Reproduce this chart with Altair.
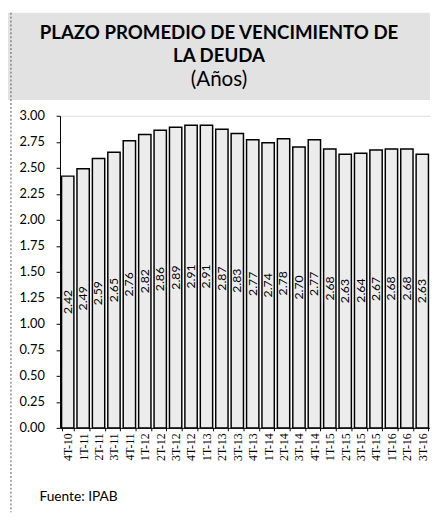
import altair as alt
import pandas as pd

quarters = ["4T-10", "1T-11", "2T-11", "3T-11", "4T-11", "1T-12", "2T-12", "3T-12",
            "4T-12", "1T-13", "2T-13", "3T-13", "4T-13", "1T-14", "2T-14", "3T-14",
            "4T-14", "1T-15", "2T-15", "3T-15", "4T-15", "1T-16", "2T-16", "3T-16"]
plazo = [2.42, 2.49, 2.59, 2.65, 2.76, 2.82, 2.86, 2.89, 2.91, 2.91, 2.87, 2.83,
         2.77, 2.74, 2.78, 2.70, 2.77, 2.68, 2.63, 2.64, 2.67, 2.68, 2.68, 2.63]
y_ticks = [0.0, 0.25, 0.5, 0.75, 1.0, 1.25, 1.5, 1.75, 2.0, 2.25, 2.5, 2.75, 3.0]
title_line1 = "PLAZO PROMEDIO DE VENCIMIENTO DE"
title_line2 = "LA DEUDA"
subtitle_text = "(Años)"
source_text = "Fuente: IPAB"

df = pd.DataFrame({"trimestre": quarters, "plazo": plazo})
df["mid"] = df["plazo"] / 2
one = pd.DataFrame({"k": [0]})

W, H = 377, 318

x_axis = alt.Axis(title=None, labelAngle=-90, labelFont="Liberation Serif",
                  labelFontSize=12, labelColor="black", tickBand="extent",
                  tickSize=3, labelPadding=2, domainColor="black",
                  tickColor="black", labelOverlap=False)
y_axis = alt.Axis(title=None, values=y_ticks, format=".2f", grid=False,
                  labelFont="Lato", labelFontSize=13, labelColor="black",
                  tickSize=4, labelPadding=12, domainColor="black",
                  tickColor="black", labelOverlap=False)
x_scale = alt.Scale(paddingInner=0.2, paddingOuter=0.1)
y_scale = alt.Scale(domain=[0, 3], nice=False)

bg = alt.Chart(one).mark_rect(color="#e2e2e2").encode(
    x=alt.value(-53), x2=alt.value(W), y=alt.value(-105), y2=alt.value(-16))

border = alt.Chart(one).mark_rule(color="#555555", strokeDash=[2, 2], strokeWidth=1).encode(
    x=alt.value(-50), y=alt.value(-105), y2=alt.value(404))

bars = alt.Chart(df).mark_bar(fill="#ececec", stroke="black", strokeWidth=1.5).encode(
    x=alt.X("trimestre:N", sort=quarters, scale=x_scale, axis=x_axis),
    y=alt.Y("plazo:Q", scale=y_scale, axis=y_axis))

labels = alt.Chart(df).mark_text(
    angle=270, font="Lato", fontSize=12.5, color="black", align="center",
    baseline="middle").encode(
    x=alt.X("trimestre:N", sort=quarters, scale=x_scale, axis=x_axis),
    y=alt.Y("mid:Q", scale=y_scale, axis=y_axis),
    text=alt.Text("plazo:Q", format=".2f"))

t1 = alt.Chart(one).mark_text(font="Lato", fontSize=19, fontWeight="bold", color="black",
                              align="center", baseline="middle").encode(
    x=alt.value(162), y=alt.value(-84), text=alt.value(title_line1))
t2 = alt.Chart(one).mark_text(font="Lato", fontSize=19, fontWeight="bold", color="black",
                              align="center", baseline="middle").encode(
    x=alt.value(162), y=alt.value(-61), text=alt.value(title_line2))
t3 = alt.Chart(one).mark_text(font="Lato", fontSize=21, color="black",
                              align="center", baseline="middle").encode(
    x=alt.value(162), y=alt.value(-36), text=alt.value(subtitle_text))

source = alt.Chart(one).mark_text(font="Lato", fontSize=14, color="black",
                                  align="left", baseline="middle").encode(
    x=alt.value(-21), y=alt.value(389), text=alt.value(source_text))

chart = alt.layer(bg, border, bars, labels, t1, t2, t3, source).properties(
    width=W, height=H,
    padding={"left": 53, "top": 105, "right": 0, "bottom": 86},
    autosize=alt.AutoSizeParams(type="none"),
).configure_view(stroke=None).configure(background="white")

chart.save("out.html", embed_options={"renderer": "svg", "actions": False})
